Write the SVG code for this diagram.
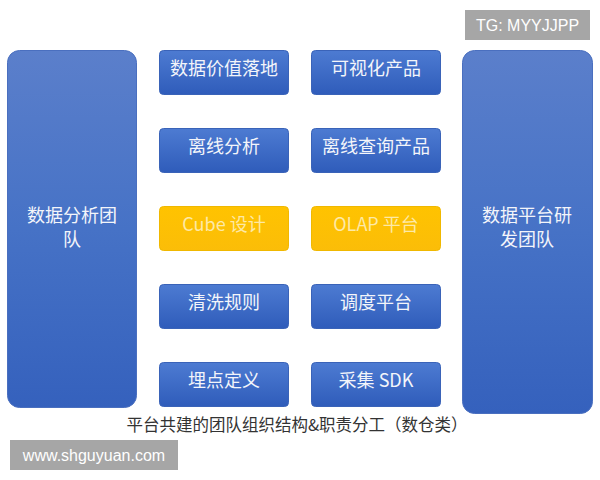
<svg xmlns="http://www.w3.org/2000/svg" width="600" height="480" viewBox="0 0 600 480">
<defs>
<linearGradient id="gBig" x1="0" y1="0" x2="0" y2="1">
<stop offset="0" stop-color="#5b7fcb"/>
<stop offset="0.5" stop-color="#4672c6"/>
<stop offset="1" stop-color="#3561bd"/>
</linearGradient>
<linearGradient id="gBlue" x1="0" y1="0" x2="0" y2="1">
<stop offset="0" stop-color="#4d7bd2"/>
<stop offset="1" stop-color="#2f5cba"/>
</linearGradient>
<linearGradient id="gYel" x1="0" y1="0" x2="0" y2="1">
<stop offset="0" stop-color="#ffc300"/>
<stop offset="1" stop-color="#fbbd08"/>
</linearGradient>
<style>
text{font-family:"Noto Sans CJK SC","Noto Sans",sans-serif;text-anchor:middle}
.big{fill:url(#gBig);stroke:#4a6fbf;stroke-width:1}
.blue{fill:url(#gBlue);stroke:#3a63b8;stroke-width:1}
.yel{fill:url(#gYel);stroke:#f0b800;stroke-width:1}
.wt{fill:#f3f5fa;font-size:18px}
.yt{fill:#fde9a6;font-size:18px}
.cap{fill:#333;font-size:16.5px}
.wm{fill:#ffffff;font-size:16px;font-family:"Liberation Sans",Arial,sans-serif}
</style>
</defs>
<rect width="600" height="480" fill="#ffffff"/>
<g id="team-analysis">
<rect class="big" x="7.5" y="50.5" width="129" height="357" rx="12"/>
<text class="wt" x="72" y="222">数据分析团</text>
<text class="wt" x="72" y="246">队</text>
</g>
<g id="team-platform">
<rect class="big" x="462.5" y="50.5" width="130" height="363" rx="12"/>
<text class="wt" x="527" y="222">数据平台研</text>
<text class="wt" x="527" y="246">发团队</text>
</g>
<g id="n1"><rect class="blue" x="159.5" y="50.5" width="129" height="44" rx="4"/><text class="wt" x="224" y="75">数据价值落地</text></g>
<g id="n2"><rect class="blue" x="311.5" y="50.5" width="129" height="44" rx="4"/><text class="wt" x="376" y="75">可视化产品</text></g>
<g id="n3"><rect class="blue" x="159.5" y="128.5" width="129" height="44" rx="4"/><text class="wt" x="224" y="153">离线分析</text></g>
<g id="n4"><rect class="blue" x="311.5" y="128.5" width="129" height="44" rx="4"/><text class="wt" x="376" y="153">离线查询产品</text></g>
<g id="n5"><rect class="yel" x="159.5" y="206.5" width="129" height="44" rx="4"/><text class="yt" x="224" y="231">Cube 设计</text></g>
<g id="n6"><rect class="yel" x="311.5" y="206.5" width="129" height="44" rx="4"/><text class="yt" x="376" y="231">OLAP 平台</text></g>
<g id="n7"><rect class="blue" x="159.5" y="284.5" width="129" height="44" rx="4"/><text class="wt" x="224" y="309">清洗规则</text></g>
<g id="n8"><rect class="blue" x="311.5" y="284.5" width="129" height="44" rx="4"/><text class="wt" x="376" y="309">调度平台</text></g>
<g id="n9"><rect class="blue" x="159.5" y="362.5" width="129" height="44" rx="4"/><text class="wt" x="224" y="387">埋点定义</text></g>
<g id="n10"><rect class="blue" x="311.5" y="362.5" width="129" height="44" rx="4"/><text class="wt" x="376" y="387">采集 SDK</text></g>
<g id="connectors"></g>
<text class="cap" x="297" y="431">平台共建的团队组织结构&amp;职责分工（数仓类）</text>
<g id="wm-tg">
<rect x="465" y="10" width="125" height="30" fill="#a6a6a6"/>
<text class="wm" x="527.5" y="31">TG: MYYJJPP</text>
</g>
<g id="wm-site">
<rect x="10" y="440" width="168" height="30" fill="#a6a6a6"/>
<text class="wm" x="94" y="461">www.shguyuan.com</text>
</g>
</svg>
